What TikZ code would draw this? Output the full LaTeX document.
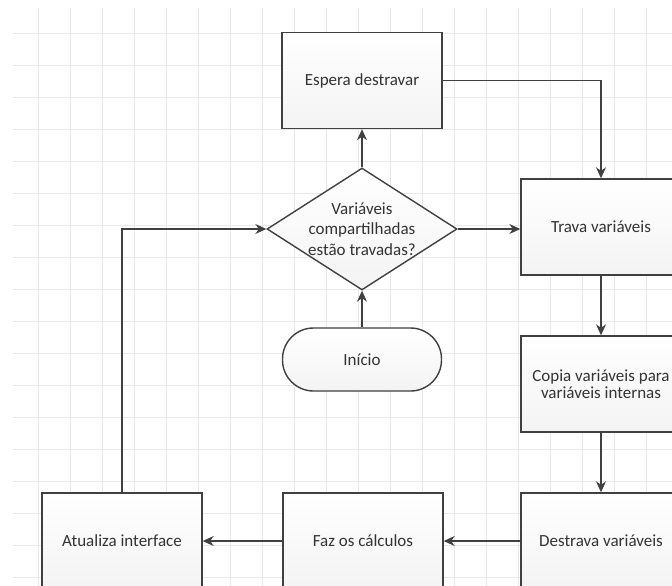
\documentclass[tikz,border=0pt]{standalone}
\usepackage{fontspec}
\setmainfont{Carlito}
\usetikzlibrary{shapes.geometric,arrows.meta}
\definecolor{linec}{HTML}{404040}
\definecolor{textc}{HTML}{333333}
\definecolor{gridc}{HTML}{E8E8E8}
\tikzset{
  box/.style={rectangle, draw=linec, line width=1.4pt, top color=white, bottom color=gray!9,
    minimum width=160pt, minimum height=96pt, inner sep=0pt, text=textc,
    font=\fontsize{17}{19}\selectfont, align=center},
  term/.style={rectangle, rounded corners=31pt, draw=linec, line width=1.4pt, top color=white, bottom color=gray!9,
    minimum width=159pt, minimum height=63pt, inner sep=0pt, text=textc,
    font=\fontsize{17}{19}\selectfont},
  dec/.style={diamond, draw=linec, line width=1.4pt, top color=white, bottom color=gray!9,
    minimum width=190pt, minimum height=122pt, inner sep=0pt},
  lbl/.style={text=textc, font=\fontsize{17}{20.5}\selectfont, align=center, inner sep=0pt},
  conn/.style={draw=linec, line width=1.4pt, -{Stealth[length=11pt,width=10pt]}}
}
\begin{document}
\begin{tikzpicture}[x=1pt,y=-1pt]
\useasboundingbox (0,0) rectangle (672,586);
\clip (0,0) rectangle (672,586);
\fill[white] (0,0) rectangle (672,586);
% grid
\foreach \gx in {38,70,...,680} \draw[gridc, line width=0.9pt] (\gx,8) -- (\gx,586);
\foreach \gy in {33,65,...,590} \draw[gridc, line width=0.9pt] (13,\gy) -- (672,\gy);
% nodes
\node[box] (esp) at (362,80.5) {Espera destravar};
\node[dec] (dec) at (362,229) {};
\node[lbl] (dectext) at (362,229) {Variáveis\\compartilhadas\\estão travadas?};
\node[box, font=\fontsize{17}{17.5}\selectfont] (cop) at (601,384) {Copia variáveis para\\variáveis internas};
\node[box] (trv) at (601,227) {Trava variáveis};
\node[term] (ini) at (362,359.5) {Início};
\node[box] (des) at (601,541) {Destrava variáveis};
\node[box] (faz) at (363,541) {Faz os cálculos};
\node[box] (atu) at (122,541) {Atualiza interface};
% connectors
\draw[conn] (dec.north) -- (esp.south);
\draw[conn] (esp.east) -| (trv.north);
\draw[conn] (dec.east) -- (dec.east -| trv.west);
\draw[conn] (ini.north) -- (dec.south);
\draw[conn] (trv.south) -- (cop.north);
\draw[conn] (cop.south) -- (des.north);
\draw[conn] (des.west) -- (faz.east);
\draw[conn] (faz.west) -- (atu.east);
\draw[conn] (atu.north) |- (dec.west);
\end{tikzpicture}
\end{document}
